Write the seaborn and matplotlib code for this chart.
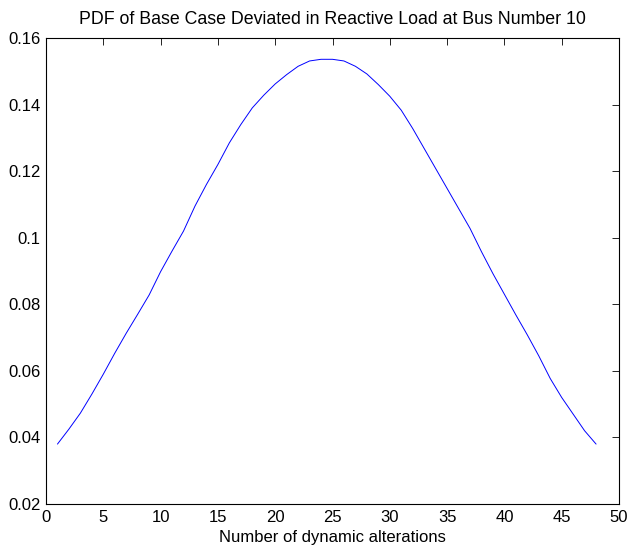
import numpy as np
import pandas as pd
import seaborn as sns
import matplotlib
matplotlib.use("Agg")
import matplotlib.pyplot as plt

# values
alterations = list(range(1, 49))
pdf_values = [0.0380, 0.0425, 0.0473, 0.0530, 0.0590, 0.0653, 0.0713, 0.0770,
              0.0828, 0.0898, 0.0960, 0.1020, 0.1095, 0.1160, 0.1220, 0.1285,
              0.1340, 0.1390, 0.1428, 0.1462, 0.1490, 0.1515, 0.1531, 0.1536,
              0.1536, 0.1531, 0.1515, 0.1492, 0.1460, 0.1425, 0.1383, 0.1328,
              0.1268, 0.1208, 0.1148, 0.1088, 0.1028, 0.0958, 0.0892, 0.0830,
              0.0768, 0.0708, 0.0645, 0.0577, 0.0520, 0.0470, 0.0420, 0.0380]
x_ticks = [0, 5, 10, 15, 20, 25, 30, 35, 40, 45, 50]
y_ticks = [0.02, 0.04, 0.06, 0.08, 0.1, 0.12, 0.14, 0.16]
y_labels = ["0.02", "0.04", "0.06", "0.08", "0.1", "0.12", "0.14", "0.16"]

df = pd.DataFrame({"x": alterations, "pdf": pdf_values})

sns.set_style("white")
plt.rcParams["font.family"] = ["Liberation Sans", "DejaVu Sans"]
plt.rcParams["text.color"] = "black"
plt.rcParams["axes.labelcolor"] = "black"

fig = plt.figure(figsize=(6.28, 5.54), dpi=100)
ax = fig.add_axes([46 / 628, 1 - 504 / 554, 573 / 628, 466 / 554])

sns.lineplot(data=df, x="x", y="pdf", ax=ax, color=(0, 0, 1), linewidth=0.7)

ax.set_xlim(0, 50)
ax.set_ylim(0.02, 0.16)
ax.set_xticks(x_ticks)
ax.set_yticks(y_ticks)
ax.set_yticklabels(y_labels)
ax.tick_params(direction="in", length=5, width=0.6, color="black",
               top=True, right=True, labelsize=12, pad=4, labelcolor="black")
for s in ax.spines.values():
    s.set_color("black")
    s.set_linewidth(0.8)

ax.set_title("PDF of Base Case Deviated in Reactive Load at Bus Number 10",
             fontsize=12.8, pad=10, color="black")
ax.set_xlabel("Number of dynamic alterations", fontsize=12, labelpad=4,
              color="black")
ax.set_ylabel("")

fig.savefig("out.png", dpi=100)
